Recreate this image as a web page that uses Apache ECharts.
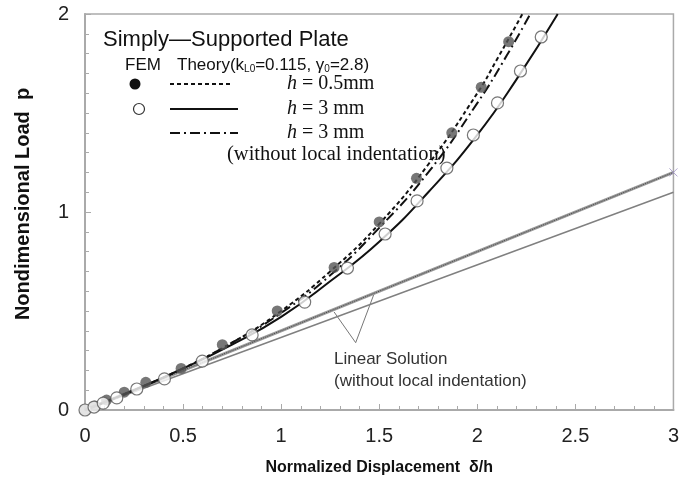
<!DOCTYPE html>
<html>
<head>
<meta charset="utf-8">
<script src="https://cdn.jsdelivr.net/npm/echarts@6/dist/echarts.min.js"></script>
<style>
html,body{margin:0;padding:0;background:#fff;}
#plate{width:682px;height:483px;}
</style>
</head>
<body>
<div id="plate"></div>
<script>
// values
var xTicks = [0, 0.5, 1, 1.5, 2, 2.5, 3];
var yTicks = [0, 1, 2];

// FEM results
var femThin = [[0,0],[0.05,0.02],[0.11,0.05],[0.2,0.09],[0.31,0.14],[0.49,0.21],[0.7,0.33],
  [0.98,0.5],[1.27,0.72],[1.5,0.95],[1.69,1.17],[1.87,1.4],[2.02,1.63],[2.16,1.86]];
var femThick = [[0,0],[0.046,0.015],[0.093,0.035],[0.162,0.061],[0.264,0.106],[0.405,0.157],
  [0.598,0.247],[0.852,0.379],[1.12,0.545],[1.338,0.717],[1.53,0.889],[1.693,1.056],
  [1.845,1.222],[1.98,1.389],[2.103,1.551],[2.22,1.712],[2.326,1.884]];

// theory curves
var theoryThin = [[0,0],[0.25,0.1],[0.5,0.21],[0.75,0.34],[1,0.5],[1.25,0.7],[1.5,0.94],
  [1.75,1.24],[2,1.6],[2.1,1.77],[2.23,2.0]];
var theoryThick = [[0,0],[0.25,0.1],[0.5,0.21],[0.75,0.33],[1,0.47],[1.25,0.65],[1.5,0.85],
  [1.75,1.1],[2,1.39],[2.2,1.67],[2.41,2.0]];
var theoryNoIndent = [[0,0],[0.25,0.1],[0.5,0.21],[0.75,0.34],[1,0.49],[1.25,0.68],[1.5,0.92],
  [1.75,1.2],[2,1.55],[2.15,1.79],[2.27,2.0]];

// linear solutions
var linearUpper = [[0,0],[3,1.2]];
var linearLower = [[0,0],[3,1.1]];

var sans = "'Liberation Sans', Arial, sans-serif";
var serif = "'Liberation Serif', 'Times New Roman', serif";

var myChart = echarts.init(document.getElementById('plate'));

function curve(name, data, type, z) {
    return {
        name: name, type: 'line', data: data, smooth: true, symbol: 'none', z: z,
        lineStyle: {color: '#111', width: 2, type: type}
    };
}

myChart.setOption({
    animation: false,
    backgroundColor: '#fff',
    grid: {left: 85, right: 5, top: 14, bottom: 73, show: true, borderColor: '#aaa', borderWidth: 1.5},
    xAxis: {
        type: 'value', min: xTicks[0], max: xTicks[xTicks.length - 1], interval: 0.5,
        name: 'Normalized Displacement  \u03b4/h', nameLocation: 'middle', nameGap: 50,
        nameTextStyle: {fontFamily: sans, fontWeight: 'bold', fontSize: 16, color: '#111'},
        axisLine: {lineStyle: {color: '#aaa', width: 2}},
        axisTick: {inside: true, length: 6, lineStyle: {color: '#aaa'}},
        minorTick: {show: true, splitNumber: 5, length: 4, lineStyle: {color: '#aaa'}},
        splitLine: {show: false},
        axisLabel: {fontFamily: sans, fontSize: 20, color: '#222', margin: 16}
    },
    yAxis: {
        type: 'value', min: yTicks[0], max: yTicks[yTicks.length - 1], interval: 1,
        axisLine: {show: true, lineStyle: {color: '#aaa', width: 2}},
        axisTick: {show: true, inside: true, length: 6, lineStyle: {color: '#aaa'}},
        minorTick: {show: true, splitNumber: 10, length: 4, lineStyle: {color: '#aaa'}},
        splitLine: {show: false},
        axisLabel: {fontFamily: sans, fontSize: 20, color: '#222', margin: 16}
    },
    series: [
        {name: 'lin1', type: 'line', data: linearUpper, symbol: 'none', z: 2,
         lineStyle: {color: '#9a9a9a', width: 3}},
        {name: 'lin1b', type: 'line', data: linearUpper, symbol: 'none', z: 3,
         lineStyle: {color: '#444', width: 1, type: 'dotted'}},
        {name: 'lin2', type: 'line', data: linearLower, symbol: 'none', z: 2,
         lineStyle: {color: '#808080', width: 1.5}},
        {name: 'end', type: 'scatter', data: [linearUpper[1]], z: 4,
         symbol: 'path://M0,0L10,10M10,0L0,10', symbolSize: 8,
         itemStyle: {color: 'none', borderColor: '#9d90c4', borderWidth: 1}},
        curve('theory h=0.5', theoryThin, [4, 3], 5),
        curve('theory h=3', theoryThick, 'solid', 5),
        curve('theory no indentation', theoryNoIndent, [10, 4, 2, 4], 5),
        {name: 'FEM h=0.5', type: 'scatter', data: femThin, symbol: 'circle', symbolSize: 11, z: 6,
         itemStyle: {color: '#555'}},
        {name: 'FEM h=3', type: 'scatter', data: femThick, symbol: 'circle', symbolSize: 12, z: 7,
         itemStyle: {color: '#fff', borderColor: '#555', borderWidth: 1.2}}
    ]
});

// legend and notes
var pLeft = myChart.convertToPixel({gridIndex: 0}, [1.27, 0.495]);
var pTip = myChart.convertToPixel({gridIndex: 0}, [1.38, 0.34]);
var pRight = myChart.convertToPixel({gridIndex: 0}, [1.475, 0.59]);
var italicH = {i: {fontStyle: 'italic', fontFamily: serif, fontSize: 20}};

myChart.setOption({
    graphic: [
        {type: 'text', x: 23, y: 204, rotation: Math.PI / 2,
         style: {text: 'Nondimensional Load  p', font: 'bold 20px ' + sans, fill: '#111',
                 align: 'center', verticalAlign: 'middle'}},
        {type: 'text', x: 103, y: 40,
         style: {text: 'Simply\u2015Supported Plate', font: '22px ' + sans, fill: '#111', verticalAlign: 'middle'}},
        {type: 'text', x: 125, y: 65,
         style: {text: 'FEM', font: '17px ' + sans, fill: '#111', verticalAlign: 'middle'}},
        {type: 'text', x: 177, y: 65,
         style: {text: 'Theory(k{s|L0}=0.115, \u03b3{s|0}=2.8)', font: '17px ' + sans, fill: '#111',
                 verticalAlign: 'middle',
                 rich: {s: {fontSize: 10, fontFamily: sans, verticalAlign: 'bottom', padding: [9, 0, 0, 0]}}}},
        {type: 'circle', shape: {cx: 135, cy: 84, r: 5.5}, style: {fill: '#111'}},
        {type: 'line', shape: {x1: 170, y1: 84, x2: 233, y2: 84}, style: {stroke: '#111', lineWidth: 2, lineDash: [4, 3]}},
        {type: 'text', x: 287, y: 84,
         style: {text: '{i|h} = 0.5mm', font: '20px ' + serif, fill: '#111', verticalAlign: 'middle', rich: italicH}},
        {type: 'circle', shape: {cx: 139, cy: 109, r: 5.5}, style: {fill: '#fff', stroke: '#333', lineWidth: 1.2}},
        {type: 'line', shape: {x1: 170, y1: 109, x2: 238, y2: 109}, style: {stroke: '#111', lineWidth: 2}},
        {type: 'text', x: 287, y: 109,
         style: {text: '{i|h} = 3 mm', font: '20px ' + serif, fill: '#111', verticalAlign: 'middle', rich: italicH}},
        {type: 'line', shape: {x1: 170, y1: 133, x2: 238, y2: 133}, style: {stroke: '#111', lineWidth: 2, lineDash: [10, 4, 2, 4]}},
        {type: 'text', x: 287, y: 133,
         style: {text: '{i|h} = 3 mm', font: '20px ' + serif, fill: '#111', verticalAlign: 'middle', rich: italicH}},
        {type: 'text', x: 227, y: 155,
         style: {text: '(without local indentation)', font: '20.5px ' + serif, fill: '#111', verticalAlign: 'middle'}},
        {type: 'polyline', shape: {points: [pLeft, pTip, pRight]}, style: {stroke: '#777', lineWidth: 1, fill: null}},
        {type: 'text', x: 334, y: 359,
         style: {text: 'Linear Solution', font: '17px ' + sans, fill: '#333', verticalAlign: 'middle'}},
        {type: 'text', x: 334, y: 381,
         style: {text: '(without local indentation)', font: '17px ' + sans, fill: '#333', verticalAlign: 'middle'}}
    ]
});
</script>
</body>
</html>
